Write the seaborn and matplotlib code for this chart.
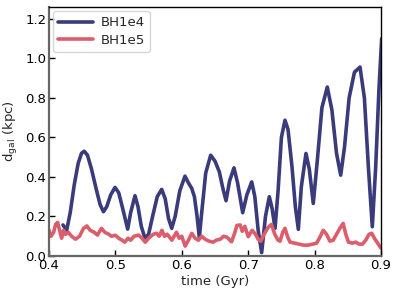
import numpy as np
import pandas as pd
import matplotlib
matplotlib.use("Agg")
import matplotlib.pyplot as plt
import seaborn as sns

# ---- data ----
t_bh1e4 = [0.421, 0.4266, 0.432, 0.438, 0.444, 0.449, 0.453, 0.458, 0.464, 0.471,
           0.477, 0.482, 0.487, 0.493, 0.4994, 0.505, 0.511, 0.5185, 0.523, 0.5295,
           0.534, 0.539, 0.5446, 0.550, 0.556, 0.563, 0.5697, 0.575, 0.580, 0.5848,
           0.590, 0.597, 0.6048, 0.610, 0.615, 0.619, 0.623, 0.6264, 0.630, 0.636,
           0.6435, 0.650, 0.6565, 0.662, 0.6666, 0.672, 0.6786, 0.684, 0.6917, 0.698,
           0.7053, 0.710, 0.715, 0.7203, 0.726, 0.7318, 0.736, 0.7404, 0.745, 0.750,
           0.7554, 0.760, 0.766, 0.771, 0.7755, 0.780, 0.787, 0.792, 0.798, 0.804,
           0.811, 0.8191, 0.826, 0.833, 0.8393, 0.845, 0.852, 0.860, 0.8684, 0.875,
           0.881, 0.8869, 0.892, 0.897, 0.901]
d_bh1e4 = [0.157, 0.13, 0.22, 0.36, 0.47, 0.52, 0.53, 0.51, 0.44, 0.34,
           0.26, 0.224, 0.25, 0.31, 0.347, 0.32, 0.24, 0.136, 0.22, 0.305,
           0.25, 0.15, 0.089, 0.11, 0.20, 0.30, 0.337, 0.29, 0.19, 0.14,
           0.20, 0.33, 0.404, 0.37, 0.342, 0.30, 0.20, 0.094, 0.22, 0.42,
           0.51, 0.48, 0.426, 0.34, 0.28, 0.38, 0.446, 0.37, 0.219, 0.31,
           0.375, 0.30, 0.13, 0.017, 0.20, 0.30, 0.24, 0.14, 0.33, 0.60,
           0.687, 0.64, 0.45, 0.25, 0.135, 0.35, 0.519, 0.44, 0.266, 0.48,
           0.75, 0.855, 0.74, 0.52, 0.409, 0.55, 0.80, 0.93, 0.956, 0.80,
           0.45, 0.148, 0.45, 0.85, 1.10]

t_bh1e5 = [0.400, 0.403, 0.407, 0.410, 0.413, 0.416, 0.419, 0.422, 0.425, 0.429,
           0.434, 0.440, 0.446, 0.452, 0.457, 0.462, 0.468, 0.473, 0.479, 0.484,
           0.490, 0.494, 0.500, 0.505, 0.510, 0.514, 0.519, 0.523, 0.528, 0.535,
           0.540, 0.545, 0.550, 0.557, 0.562, 0.566, 0.570, 0.574, 0.578, 0.585,
           0.592, 0.596, 0.600, 0.605, 0.610, 0.615, 0.620, 0.625, 0.630, 0.635,
           0.641, 0.647, 0.652, 0.658, 0.663, 0.668, 0.675, 0.680, 0.683, 0.688,
           0.691, 0.695, 0.700, 0.706, 0.711, 0.715, 0.719, 0.724, 0.730, 0.735,
           0.740, 0.745, 0.748, 0.752, 0.7554, 0.759, 0.763, 0.770, 0.777, 0.783,
           0.790, 0.797, 0.803, 0.808, 0.813, 0.818, 0.823, 0.828, 0.833, 0.838,
           0.843, 0.847, 0.851, 0.857, 0.862, 0.867, 0.872, 0.877, 0.882, 0.886,
           0.890, 0.895, 0.900]
d_bh1e5 = [0.13, 0.10, 0.12, 0.16, 0.17, 0.13, 0.09, 0.13, 0.11, 0.12,
           0.10, 0.085, 0.10, 0.14, 0.152, 0.13, 0.12, 0.106, 0.14, 0.12,
           0.11, 0.10, 0.105, 0.09, 0.08, 0.07, 0.09, 0.08, 0.10, 0.106,
           0.09, 0.07, 0.09, 0.11, 0.115, 0.10, 0.13, 0.10, 0.11, 0.08,
           0.12, 0.09, 0.10, 0.05, 0.08, 0.115, 0.09, 0.08, 0.10, 0.085,
           0.075, 0.07, 0.08, 0.085, 0.10, 0.095, 0.072, 0.12, 0.155, 0.157,
           0.125, 0.15, 0.098, 0.13, 0.11, 0.085, 0.075, 0.11, 0.145, 0.16,
           0.11, 0.08, 0.075, 0.12, 0.14, 0.10, 0.07, 0.065, 0.06, 0.055,
           0.055, 0.06, 0.065, 0.095, 0.13, 0.11, 0.075, 0.08, 0.11, 0.14,
           0.165, 0.11, 0.07, 0.065, 0.07, 0.06, 0.06, 0.08, 0.11, 0.115,
           0.09, 0.065, 0.04]

labels = ["BH1e4", "BH1e5"]
colors = ["#393b7a", "#dc5d6b"]
xticks = [0.4, 0.5, 0.6, 0.7, 0.8, 0.9]
yticks = [0.0, 0.2, 0.4, 0.6, 0.8, 1.0, 1.2]

df = pd.concat([
    pd.DataFrame({"t": t_bh1e4, "d": d_bh1e4, "run": labels[0]}),
    pd.DataFrame({"t": t_bh1e5, "d": d_bh1e5, "run": labels[1]}),
], ignore_index=True)

sns.set_style("white")
plt.rcParams["font.family"] = ["DejaVu Sans"]

fig = plt.figure(figsize=(3.99, 2.95), dpi=100)
ax = fig.add_axes([49/399, 1 - 256/295, (381-49)/399, (256-7)/295])

sns.lineplot(data=df, x="t", y="d", hue="run", palette=colors, estimator=None,
             sort=False, linewidth=2.6, ax=ax)

ax.set_xlim(0.4, 0.9)
ax.set_ylim(0, 1.26)
ax.set_xticks(xticks)
ax.set_yticks(yticks)
ax.set_xticklabels([f"{v:.1f}" for v in xticks])
ax.set_yticklabels([f"{v:.1f}" for v in yticks])
ax.tick_params(direction="in", length=4, width=1, labelsize=9.5, colors="black",
               bottom=True, left=True, top=False, right=False, pad=2)
ax.set_xlabel("time (Gyr)", fontsize=9.5, labelpad=2)
ax.set_ylabel(r"d$_{\rm gal}$ (kpc)", fontsize=9.5, labelpad=4)

for side in ["left", "bottom"]:
    ax.spines[side].set_color("#666666")
    ax.spines[side].set_linewidth(1.6)
for side in ["top", "right"]:
    ax.spines[side].set_color("black")
    ax.spines[side].set_linewidth(1.0)

leg = ax.legend(loc="upper left", fontsize=9.5, frameon=True, handlelength=2.6,
                borderpad=0.4, labelspacing=0.35, handletextpad=0.6,
                borderaxespad=0.3)
for line in leg.get_lines():
    line.set_linewidth(2.6)

fig.savefig("out.png", dpi=100)
